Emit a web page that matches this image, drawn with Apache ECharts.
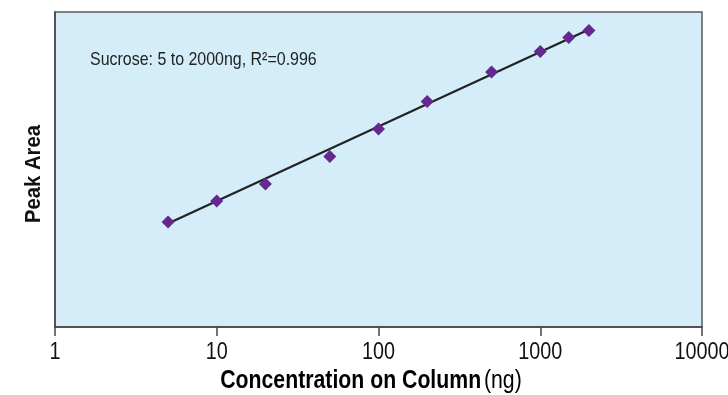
<!DOCTYPE html>
<html><head><meta charset="utf-8">
<script src="https://cdn.jsdelivr.net/npm/echarts@6/dist/echarts.min.js"></script>
<style>html,body{margin:0;padding:0;background:#fff}#c{width:728px;height:395px}</style>
</head><body><div id="c"></div>
<script>
const concentrations = [5, 10, 20, 50, 100, 200, 500, 1000, 1500, 2000];
const peakAreas = [105, 126, 143, 170.5, 198, 225.5, 255, 275.5, 289.5, 296.5];
const fitX = [5, 2000];
const fitY = [103.6, 297.4];
const xTicks = [1, 10, 100, 1000, 10000];
const annotation = 'Sucrose: 5 to 2000ng, R\u00B2=0.996';
const xTitleBold = 'Concentration on Column';
const xTitleUnit = '(ng)';
const yTitle = 'Peak Area';
const FONT = "'Liberation Sans', Arial, sans-serif";

const chart = echarts.init(document.getElementById('c'), null, {renderer: 'canvas'});
chart.setOption({
  animation: false,
  grid: {left: 55, right: 26, top: 12, bottom: 68, outerBoundsMode: 'none', containLabel: false, show: true, backgroundColor: '#d4edf9', borderColor: '#5a5a5a', borderWidth: 1.5},
  xAxis: {
    type: 'log', logBase: 10, min: xTicks[0], max: xTicks[xTicks.length - 1],
    axisLine: {show: true, lineStyle: {color: '#444', width: 1.5}},
    axisTick: {show: true, inside: false, length: 9, lineStyle: {color: '#444', width: 1.5}},
    axisLabel: {show: false},
    splitLine: {show: false}
  },
  yAxis: {
    type: 'value', min: 0, max: 315,
    axisLine: {show: true, lineStyle: {color: '#444', width: 1.5}},
    axisTick: {show: false}, axisLabel: {show: false}, splitLine: {show: false}
  },
  series: [
    {type: 'line', data: fitX.map((x, i) => [x, fitY[i]]), symbol: 'none', lineStyle: {color: '#222', width: 2.2}, z: 2},
    {type: 'scatter', data: concentrations.map((x, i) => [x, peakAreas[i]]), symbol: 'diamond', symbolSize: 13, itemStyle: {color: '#64288f', opacity: 1}, z: 3}
  ]
});

const tickLabelY = chart.convertToPixel({yAxisIndex: 0}, 0) + 26;
const tickGraphics = xTicks.map(v => ({
  type: 'text', x: chart.convertToPixel({xAxisIndex: 0}, v), y: tickLabelY, scaleX: 0.86,
  style: {x: 0, y: 0, text: String(v), align: 'center', verticalAlign: 'middle', fontFamily: FONT, fontSize: 23, fill: '#111'}
}));

chart.setOption({
  graphic: [
    {type: 'text', x: 90, y: 60, scaleX: 0.84, style: {x: 0, y: 0, text: annotation, align: 'left', verticalAlign: 'middle', fontFamily: FONT, fontSize: 19, fill: '#222'}},
    {type: 'text', x: 371, y: 381, scaleX: 0.85, style: {x: 0, y: 0, text: '{b|' + xTitleBold + '} {n|' + xTitleUnit + '}', align: 'center', verticalAlign: 'middle',
      rich: {b: {fontFamily: FONT, fontWeight: 'bold', fontSize: 25, color: '#111'}, n: {fontFamily: FONT, fontSize: 25, color: '#111'}}}},
    {type: 'text', x: 34, y: 174, rotation: Math.PI / 2, scaleX: 0.92, style: {x: 0, y: 0, text: yTitle, align: 'center', verticalAlign: 'middle', fontFamily: FONT, fontWeight: 'bold', fontSize: 22, fill: '#111'}}
  ].concat(tickGraphics)
});
</script></body></html>
